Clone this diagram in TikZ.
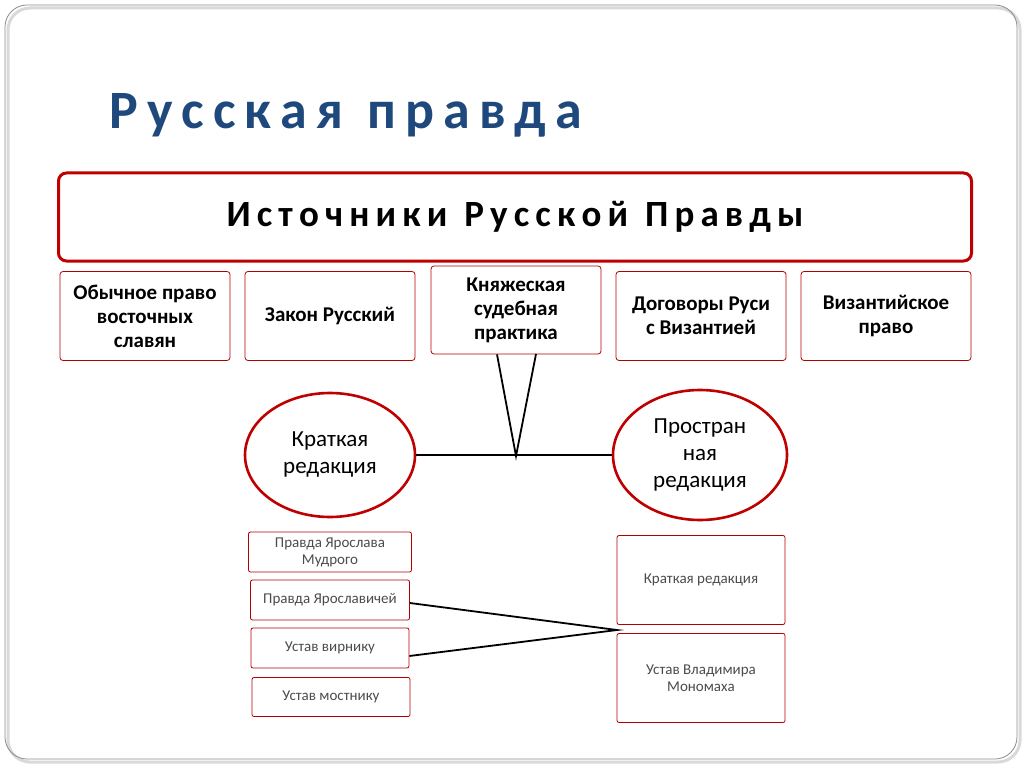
\documentclass[tikz,border=0pt]{standalone}
\usepackage{fontspec}
\setmainfont{Carlito}
\usetikzlibrary{shapes.geometric}
\begin{document}
\begin{tikzpicture}[x=1pt,y=-1pt,
 sbox/.style={draw=red!70!black,line width=0.8pt,rounded corners=3pt,fill=white,align=center,inner sep=1pt,font=\bfseries\fontsize{21}{24}\selectfont},
 lbox/.style={draw=red!70!black,line width=0.8pt,rounded corners=2pt,fill=white,align=center,inner sep=1pt,text=black!70,font=\fontsize{15}{17}\selectfont},
 ell/.style={draw=red!75!black,line width=2.6pt,ellipse,fill=white,align=center,inner sep=0pt,font=\fontsize{23}{27}\selectfont},
 conn/.style={line width=1.8pt}]
\useasboundingbox (0,0) rectangle (1024,767);
\fill[white] (0,0) rectangle (1024,767);
\draw[black!15,line width=3pt,rounded corners=22pt] (8,8) rectangle (1020,762);
\draw[black!45,line width=0.8pt,rounded corners=22pt] (5,5) rectangle (1017,759);
\node[anchor=west,text={rgb,255:red,31;green,73;blue,125},font=\bfseries\fontsize{54}{60}\selectfont] (title) at (106,115) {Р\,у\,с\,с\,к\,а\,я\ \ п\,р\,а\,в\,д\,а};
\node[draw=red!75!black,line width=3pt,rounded corners=8pt,minimum width=913pt,minimum height=88pt,font=\bfseries\fontsize{37}{40}\selectfont] (src) at (515,217) {И\,с\,т\,о\,ч\,н\,и\,к\,и\ \ Р\,у\,с\,с\,к\,о\,й\ \ П\,р\,а\,в\,д\,ы};
\node[sbox,minimum width=170pt,minimum height=89pt] (b1) at (145,316) {Обычное право\\восточных\\славян};
\node[sbox,minimum width=170pt,minimum height=89pt] (b2) at (330,316) {Закон Русский};
\node[sbox,minimum width=170pt,minimum height=88pt] (b3) at (516,310) {Княжеская\\судебная\\практика};
\node[sbox,minimum width=170pt,minimum height=89pt] (b4) at (701,316) {Договоры Руси\\с Византией};
\node[sbox,minimum width=170pt,minimum height=89pt] (b5) at (886,316) {Византийское\\право};
\coordinate (v) at (516,456);
\node[ell,minimum width=170pt,minimum height=124pt] (e1) at (330,455) {Краткая\\редакция};
\node[ell,minimum width=174pt,minimum height=130pt] (e2) at (700,455) {Простран\\ная\\редакция};
\draw[conn] (e1.east) -- (e2.west);
\draw[conn] (b3.south) ++(-19,0) coordinate (v1) -- (v) -- ++(20,-102) coordinate (v2);
\node[lbox,minimum width=163pt,minimum height=40pt] (l1) at (330,552) {Правда Ярослава\\Мудрого};
\node[lbox,minimum width=159pt,minimum height=40pt] (l2) at (330,600) {Правда Ярославичей};
\node[lbox,minimum width=158pt,minimum height=40pt] (l3) at (330,648) {Устав вирнику};
\node[lbox,minimum width=158pt,minimum height=39pt] (l4) at (331,697) {Устав мостнику};
\node[lbox,minimum width=168pt,minimum height=89pt] (r1) at (701,580) {Краткая редакция};
\node[lbox,minimum width=168pt,minimum height=89pt] (r2) at (701,678) {Устав Владимира\\Мономаха};
\coordinate (m) at (617,630);
\draw[conn] (l2.east) ++(0,3) -- (m) -- ([yshift=-8pt]l3.east);
\end{tikzpicture}
\end{document}
